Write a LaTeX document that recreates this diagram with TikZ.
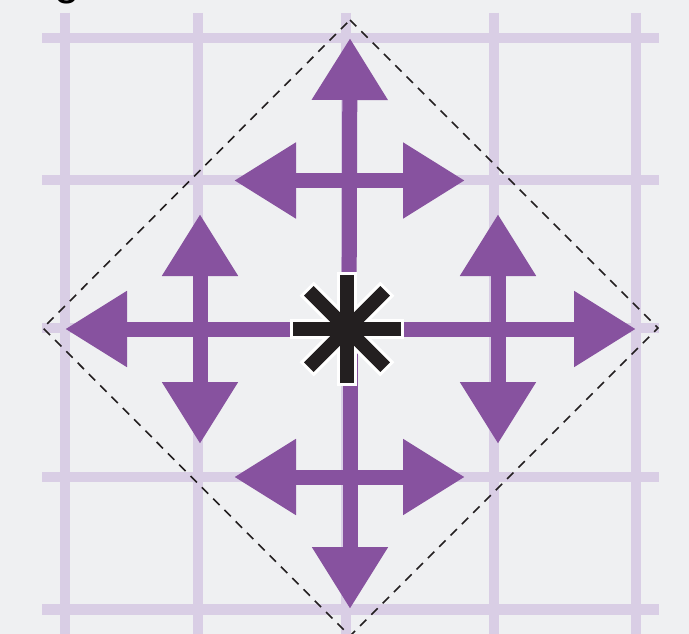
\documentclass[tikz,border=0pt]{standalone}
\usepackage{fontspec}
\setmainfont{Liberation Sans}
\usetikzlibrary{arrows.meta,calc}
\definecolor{bgc}{HTML}{EFF0F2}
\definecolor{gridc}{HTML}{D9CEE5}
\definecolor{purp}{HTML}{87529F}
\definecolor{starc}{HTML}{231F20}
\tikzset{
  gridline/.style={draw=gridc, line width=10.5pt},
  bigarrow/.style={draw=purp, line width=15pt, -{Triangle[length=62pt,width=72pt]}},
  dblarrow/.style={draw=purp, line width=15pt, {Triangle[length=62pt,width=72pt]}-{Triangle[length=62pt,width=72pt]}},
  diamondline/.style={draw=starc, line width=1.6pt, dash pattern=on 9pt off 7pt},
  starwhite/.style={draw=white, line width=20pt},
  starblack/.style={draw=starc, line width=13.5pt},
}
\begin{document}
\begin{tikzpicture}[x=1pt,y=-1pt]
\fill[bgc] (0,0) rectangle (689,634);
\useasboundingbox (0,0) rectangle (689,634);
\clip (0,0) rectangle (689,634);
% partially visible label
\node[anchor=base, font=\fontsize{46}{50}\selectfont, inner sep=0pt] (lbl) at (67,-5) {g};
% grid
\foreach \x in {65,198,346,494,636} \draw[gridline] (\x,13) -- (\x,640);
\foreach \y in {38,180,328,477,609.5} \draw[gridline] (42,\y) -- (659,\y);
% dashed diamond
\coordinate (dT) at (350,20);
\coordinate (dL) at (43,328);
\coordinate (dR) at (658,328);
\coordinate (dB) at (350,636);
\draw[diamondline] (dT) -- (dR) -- (dB) -- (dL) -- cycle;
% arrows
\coordinate (C) at (347,329);
\coordinate (tU) at (350,38);
\coordinate (tD) at (350,609);
\coordinate (tL) at (65,329);
\coordinate (tR) at (636,329);
\draw[bigarrow] (349,329) -- (tU);
\draw[bigarrow] (350,329) -- (tD);
\draw[bigarrow] (C) -- (tL);
\draw[bigarrow] (C) -- (tR);
\coordinate (hTa) at (234,180.5);
\coordinate (hTb) at (465,180.5);
\coordinate (hBa) at (234,477);
\coordinate (hBb) at (465,477);
\coordinate (vLa) at (200,214);
\coordinate (vLb) at (200,444);
\coordinate (vRa) at (498,214);
\coordinate (vRb) at (498,444);
\draw[dblarrow] (hTa) -- (hTb);
\draw[dblarrow] (hBa) -- (hBb);
\draw[dblarrow] (vLa) -- (vLb);
\draw[dblarrow] (vRa) -- (vRb);
% star
\foreach \a in {0,45,90,135} \draw[starwhite] ($(C)+(\a:57)$) -- ($(C)+(\a+180:57)$);
\foreach \a in {0,45,90,135} \draw[starblack] ($(C)+(\a:54)$) -- ($(C)+(\a+180:54)$);
\end{tikzpicture}
\end{document}
